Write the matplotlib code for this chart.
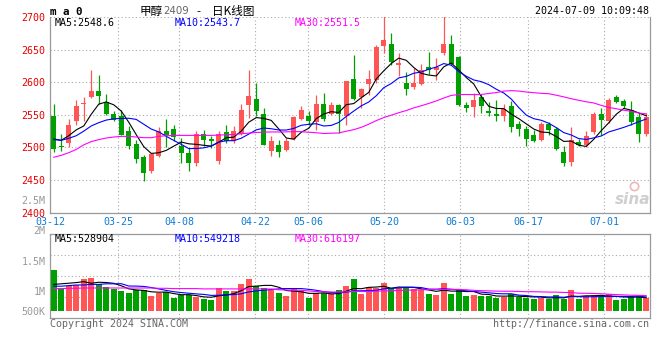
import matplotlib
matplotlib.use("Agg")
import matplotlib.pyplot as plt
from matplotlib.transforms import blended_transform_factory
import numpy as np

W, H = 660, 360
plt.rcParams['font.family'] = ['DejaVu Sans Mono', 'Noto Sans CJK SC']

# x-axis date labels and their trading-day index
dates = ["03-12", "03-25", "04-08", "04-22", "05-06", "05-20", "06-03", "06-17", "07-01"]
date_idx = [0, 9, 17, 27, 34, 44, 54, 63, 73]

# daily candles 03-12 .. 07-09
opens = [2548.8, 2502.8, 2506.9, 2540, 2566, 2577, 2587, 2569.7, 2551.8, 2548.8,
         2524.7, 2505.3, 2484.9, 2463.4, 2487.4, 2524.7, 2528.8, 2501.7, 2491, 2475.7,
         2521, 2513.5, 2478.7, 2523, 2509.4, 2520.6, 2564.6, 2575, 2551.8, 2494,
         2504.3, 2496.6, 2513.5, 2544, 2547.8, 2539, 2567.2, 2551.3, 2564.6, 2547.8,
         2605.5, 2577, 2598, 2604, 2656, 2658, 2627, 2599, 2592, 2598,
         2623, 2619, 2645, 2659, 2638, 2564.6, 2561.6, 2578, 2555.4, 2551,
         2547.8, 2564, 2536.5, 2529, 2519.6, 2512, 2536.5, 2529, 2493.6, 2477,
         2507.9, 2503.3, 2523, 2552, 2540, 2578, 2571.8, 2558, 2546, 2520.6]
highs = [2566.7, 2521, 2544, 2572, 2578, 2619, 2611.7, 2582.5, 2556.4, 2558,
         2532.4, 2512, 2489, 2491, 2532, 2544, 2535, 2514.5, 2499, 2524.7,
         2527, 2518, 2525.8, 2535, 2532.4, 2566.7, 2619.3, 2599, 2560.5, 2517,
         2512, 2514.5, 2548.8, 2564, 2555.4, 2581, 2583.5, 2569.7, 2566.7, 2602.4,
         2642, 2591, 2619, 2657, 2702, 2675, 2645, 2616, 2622, 2628,
         2647, 2637, 2702, 2673, 2640, 2569, 2583.5, 2582, 2570, 2573,
         2566.7, 2571, 2540, 2532.4, 2527, 2538.5, 2538.5, 2532, 2501.7, 2531.4,
         2513, 2525, 2554, 2560.5, 2576, 2581, 2574, 2571, 2553, 2553]
lows = [2493, 2494, 2500, 2534, 2540, 2576, 2566.7, 2550, 2540, 2518.6,
        2498, 2475.7, 2448, 2460.8, 2485, 2500, 2509.4, 2476, 2464.4, 2471,
        2501.7, 2499, 2475, 2506.8, 2506.3, 2518.6, 2545, 2549, 2503.3, 2487.4,
        2484.9, 2494, 2512, 2542.6, 2535, 2527, 2541, 2550.3, 2522.7, 2535,
        2572, 2560, 2581, 2599, 2645, 2627, 2609, 2580, 2589, 2596,
        2612, 2604, 2642, 2627, 2563, 2554, 2546, 2553, 2548, 2540,
        2540, 2523, 2517, 2502, 2508, 2509.4, 2519.6, 2496.6, 2472, 2471,
        2501.7, 2500, 2520, 2519.6, 2537, 2568, 2560, 2535, 2508, 2518]
closes = [2497.6, 2500.7, 2535, 2564, 2567.6, 2587, 2578.4, 2551.8, 2542, 2519.6,
          2501.7, 2482.8, 2460.3, 2490, 2524.7, 2519.6, 2515.5, 2491.5, 2476.7, 2520.6,
          2512, 2510.4, 2521, 2510.4, 2525.8, 2558, 2578.4, 2556.4, 2504.3, 2510.4,
          2492.5, 2509.4, 2546.2, 2558, 2541, 2566.7, 2544, 2564.6, 2551.3, 2601.4,
          2575, 2589, 2605.5, 2654, 2664, 2631, 2630, 2589, 2599, 2619,
          2618, 2623, 2659, 2628.5, 2565.6, 2560.5, 2573, 2563, 2553.4, 2549,
          2559.5, 2531, 2528, 2513.5, 2509.4, 2536.5, 2527, 2497.6, 2476, 2512,
          2504.3, 2518, 2552, 2542.6, 2572, 2570, 2563, 2538.5, 2521, 2546]

ma5 = [2513, 2511, 2518, 2527, 2533, 2550.9, 2566.4, 2569.8, 2565.4, 2555.8,
       2538.7, 2519.6, 2501.3, 2490.9, 2491.9, 2495.5, 2502, 2508.3, 2505.6, 2504.8,
       2503.3, 2502.2, 2508.1, 2514.9, 2515.9, 2525.1, 2538.7, 2545.8, 2544.6, 2541.5,
       2528.4, 2514.6, 2512.6, 2523.3, 2529.4, 2544.3, 2551.2, 2554.9, 2553.5, 2565.6,
       2567.3, 2576.3, 2584.4, 2605, 2617.5, 2628.7, 2636.9, 2633.6, 2622.6, 2613.6,
       2611, 2609.6, 2623.6, 2629.5, 2618.8, 2607.3, 2597.3, 2578.1, 2563.1, 2559.8,
       2559.6, 2551.2, 2544.2, 2536.2, 2528.3, 2523.7, 2522.9, 2516.8, 2509.3, 2509.8,
       2503.4, 2501.6, 2512.5, 2525.8, 2537.8, 2550.9, 2559.9, 2557.2, 2552.9, 2548.6]
ma10 = [2512, 2511, 2514, 2518, 2525, 2533, 2538, 2542, 2544, 2544.4,
        2544.8, 2543, 2535.6, 2528.2, 2523.9, 2517.1, 2510.8, 2504.8, 2498.3, 2498.4,
        2499.4, 2502.1, 2508.2, 2510.3, 2510.4, 2514.2, 2520.5, 2527, 2529.8, 2528.7,
        2526.8, 2526.7, 2529.2, 2534, 2535.5, 2536.4, 2532.9, 2533.8, 2538.4, 2547.5,
        2555.8, 2563.8, 2569.7, 2579.3, 2591.6, 2598, 2606.6, 2609, 2613.8, 2615.6,
        2619.9, 2623.3, 2628.6, 2626.1, 2616.2, 2609.2, 2603.5, 2600.9, 2596.3, 2589.3,
        2583.5, 2574.3, 2561.2, 2549.7, 2544.1, 2541.7, 2537.1, 2530.5, 2522.8, 2519.1,
        2513.6, 2512.3, 2514.7, 2517.6, 2523.8, 2527.2, 2530.8, 2534.9, 2539.4, 2543.7]
ma30 = [2485, 2488, 2492, 2497, 2504, 2509, 2512, 2514.5, 2516, 2517,
        2517, 2516, 2515, 2515, 2517, 2518, 2518.5, 2518.5, 2518.5, 2518.5,
        2518.5, 2518.5, 2519, 2519.5, 2520, 2521, 2522, 2523, 2523.5, 2523.8,
        2523.7, 2523.9, 2524.3, 2524.2, 2523.3, 2522.6, 2521.4, 2521.9, 2522.2, 2524.9,
        2527.3, 2530.9, 2535.7, 2541.2, 2545.8, 2549.5, 2553.3, 2556.6, 2560.7, 2563.9,
        2567.5, 2571.3, 2575.8, 2579.8, 2581.1, 2581.2, 2581, 2581.2, 2582.8, 2584.1,
        2586.4, 2587.1, 2586.5, 2585, 2584, 2583, 2582.4, 2580.1, 2577.6, 2574.7,
        2572.3, 2570, 2568.2, 2564.5, 2561.4, 2559.4, 2557.1, 2555.4, 2552.8, 2551.5]

# volume (millions)
vol = [1.355, 1.028, 1.083, 1.106, 1.206, 1.222, 1.111, 1.061, 1.039, 1.0,
       0.967, 1.022, 1.022, 0.922, 0.967, 0.983, 0.889, 0.928, 0.928, 0.894,
       0.872, 0.856, 1.05, 0.994, 1.006, 1.122, 1.2, 1.083, 1.056, 1.011,
       0.967, 0.922, 1.033, 1.0, 0.883, 0.967, 0.967, 0.944, 1.017, 1.083,
       1.2, 0.944, 1.061, 1.044, 1.139, 1.044, 1.044, 1.044, 1.028, 1.017,
       0.95, 0.933, 1.139, 0.95, 1.017, 0.917, 0.933, 0.922, 0.922, 0.889,
       0.906, 0.944, 0.906, 0.889, 0.867, 0.889, 0.867, 0.933, 0.867, 1.017,
       0.867, 0.917, 0.933, 0.906, 0.944, 0.85, 0.867, 0.922, 0.911, 0.889]
vma5 = [1.11, 1.12, 1.13, 1.14, 1.156, 1.129, 1.146, 1.141, 1.128, 1.087,
        1.036, 1.018, 1.01, 0.987, 0.98, 0.983, 0.957, 0.938, 0.939, 0.924,
        0.902, 0.896, 0.92, 0.933, 0.956, 1.006, 1.074, 1.081, 1.093, 1.094,
        1.063, 1.008, 0.998, 0.987, 0.961, 0.961, 0.97, 0.952, 0.956, 0.996,
        1.042, 1.038, 1.061, 1.066, 1.078, 1.046, 1.066, 1.063, 1.06, 1.035,
        1.017, 0.994, 1.013, 0.998, 0.998, 0.991, 0.991, 0.948, 0.942, 0.917,
        0.914, 0.917, 0.913, 0.907, 0.902, 0.899, 0.884, 0.889, 0.885, 0.915,
        0.91, 0.92, 0.92, 0.928, 0.913, 0.91, 0.9, 0.898, 0.899, 0.888]
vma10 = [1.08, 1.08, 1.09, 1.10, 1.10, 1.11, 1.11, 1.12, 1.12, 1.122,
         1.083, 1.082, 1.076, 1.058, 1.034, 1.01, 0.988, 0.974, 0.963, 0.952,
         0.943, 0.927, 0.929, 0.936, 0.94, 0.954, 0.985, 1.001, 1.013, 1.025,
         1.035, 1.041, 1.04, 1.04, 1.028, 1.012, 0.989, 0.975, 0.972, 0.979,
         1.002, 1.004, 1.007, 1.011, 1.037, 1.044, 1.052, 1.062, 1.063, 1.057,
         1.032, 1.03, 1.038, 1.029, 1.017, 1.004, 0.993, 0.981, 0.97, 0.958,
         0.953, 0.954, 0.931, 0.925, 0.91, 0.907, 0.901, 0.901, 0.896, 0.909,
         0.905, 0.902, 0.905, 0.907, 0.914, 0.91, 0.91, 0.909, 0.914, 0.901]
vma30 = [1.04, 1.04, 1.045, 1.045, 1.05, 1.05, 1.05, 1.05, 1.05, 1.05,
         1.05, 1.05, 1.05, 1.05, 1.045, 1.045, 1.04, 1.04, 1.04, 1.04,
         1.035, 1.035, 1.035, 1.035, 1.035, 1.035, 1.035, 1.035, 1.035, 1.033,
         1.02, 1.017, 1.015, 1.011, 1.001, 0.992, 0.987, 0.983, 0.983, 0.985,
         0.993, 0.991, 0.992, 0.996, 1.002, 1.003, 1.009, 1.013, 1.016, 1.02,
         1.023, 1.025, 1.028, 1.027, 1.027, 1.02, 1.011, 1.006, 1.002, 0.998,
         0.996, 0.996, 0.992, 0.988, 0.988, 0.985, 0.982, 0.981, 0.976, 0.975,
         0.963, 0.962, 0.958, 0.954, 0.947, 0.94, 0.935, 0.93, 0.927, 0.923]
vol_base = 0.672

RED = '#ff5555'
GREEN = '#00a000'
GRID = '#aaaaaa'
DOT = (0, (1, 2.2))

n = len(closes)
x = np.arange(n) + 0.5
o = np.array(opens)
c = np.array(closes)
cols = [RED if cc >= oo else GREEN for oo, cc in zip(o, c)]
grid_x = [k * n / (n - 1) for k in date_idx]

fig = plt.figure(figsize=(W / 100, H / 100), dpi=100)
ax = fig.add_axes([50 / W, (H - 212.7) / H, 600 / W, 195.7 / H])
axv = fig.add_axes([50 / W, (H - 317.7) / H, 600 / W, 83.7 / H])

# price panel
ax.vlines(x, lows, highs, colors=cols, lw=0.9, zorder=3)
body_h = np.maximum(np.abs(c - o), 1.6)
ax.bar(x, body_h, width=0.72, bottom=np.minimum(o, c), color=cols, lw=0, zorder=3)
ax.plot(x, ma5, color='black', lw=0.8, zorder=4)
ax.plot(x, ma10, color='#0000ff', lw=0.8, zorder=4)
ax.plot(x, ma30, color='#ff00ff', lw=0.8, zorder=4)

ax.set_xlim(0, n)
ax.set_ylim(2400, 2700)
ax.set_yticks(range(2400, 2701, 50))
ax.set_xticks(grid_x)
ax.set_xticklabels(dates)
ax.grid(True, color=GRID, linestyle=DOT, lw=0.8, zorder=0)
ax.tick_params(length=0, labelsize=7.2, pad=3.2)
ax.tick_params(axis='y', labelcolor='#e60000')
ax.tick_params(axis='x', labelcolor='#0f7bd1')
for side in ['left', 'right', 'bottom']:
    ax.spines[side].set_color('#999999')
    ax.spines[side].set_linewidth(0.9)
ax.spines['top'].set_visible(False)

# volume panel
axv.bar(x, np.array(vol) - vol_base, bottom=vol_base, width=0.78, color=cols, lw=0, zorder=3)
axv.plot(x, vma5, color='black', lw=0.8, zorder=4)
axv.plot(x, vma10, color='#0000ff', lw=0.8, zorder=4)
axv.plot(x, vma30, color='#ff00ff', lw=0.8, zorder=4)
axv.set_xlim(0, n)
axv.set_ylim(0.555, 1.95)
axv.set_xticks(grid_x)
axv.set_xticklabels([])
axv.set_yticks([vol_base, 1.0, 1.5])
axv.set_yticklabels(['500K', '1M', '1.5M'])
axv.grid(True, axis='x', color=GRID, linestyle=DOT, lw=0.8, zorder=0)
for f in [0.25, 0.5, 0.75]:
    axv.plot([0, 1], [f, f], transform=axv.transAxes, color=GRID, linestyle=DOT, lw=0.8, zorder=0)
axv.tick_params(length=0, labelsize=7.2, pad=3.2, labelcolor='#999999')
for side in axv.spines.values():
    side.set_color('#999999')
    side.set_linewidth(0.9)
tr = blended_transform_factory(axv.transAxes, axv.transData)
for val, lab in [(2.0, '2M'), (2.5, '2.5M')]:
    axv.text(-0.0075, val, lab, transform=tr, ha='right', va='center', fontsize=7.2,
             color='#999999', clip_on=False)


def ptxt(px, py, s, **kw):
    kw.setdefault('va', 'center')
    kw.setdefault('fontsize', 7.2)
    fig.text(px / W, 1 - py / H, s, **kw)


# header
ptxt(50, 12, 'm a 0', weight='bold', fontsize=7.8)
ptxt(139.5, 11, '甲醇', family=['Noto Sans CJK SC'], fontsize=8.4)
ptxt(163, 11.5, '2409', family=['DejaVu Sans'], color='#666666', fontsize=7.4)
ptxt(196, 11, '-', family=['DejaVu Sans'], fontsize=8)
ptxt(212.5, 11, '日K线图', family=['Noto Sans CJK SC', 'DejaVu Sans'], fontsize=8.4)
ptxt(649, 11.5, '2024-07-09 10:09:48', ha='right')

ptxt(55, 23.5, 'MA5:2548.6', color='black')
ptxt(175, 23.5, 'MA10:2543.7', color='#0000ff')
ptxt(295, 23.5, 'MA30:2551.5', color='#ff00ff')

ptxt(55, 238.5, 'MA5:528904', color='black')
ptxt(175, 238.5, 'MA10:549218', color='#0000ff')
ptxt(295, 238.5, 'MA30:616197', color='#ff00ff')

# watermark
ax.plot([0.973], [0.135], transform=ax.transAxes, marker='o', ms=6, mfc='none',
        mec='#efb8b8', mew=1.2, zorder=1)
ptxt(650, 199, 'sina', family=['DejaVu Sans'], style='italic', weight='bold',
     color='#cfcfcf', fontsize=11, ha='right')

# footer
ptxt(50, 323.7, 'Copyright 2024 SINA.COM', color='#666666')
ptxt(649, 324, 'http://finance.sina.com.cn', color='#666666', ha='right')

fig.savefig('out.png', dpi=100)
